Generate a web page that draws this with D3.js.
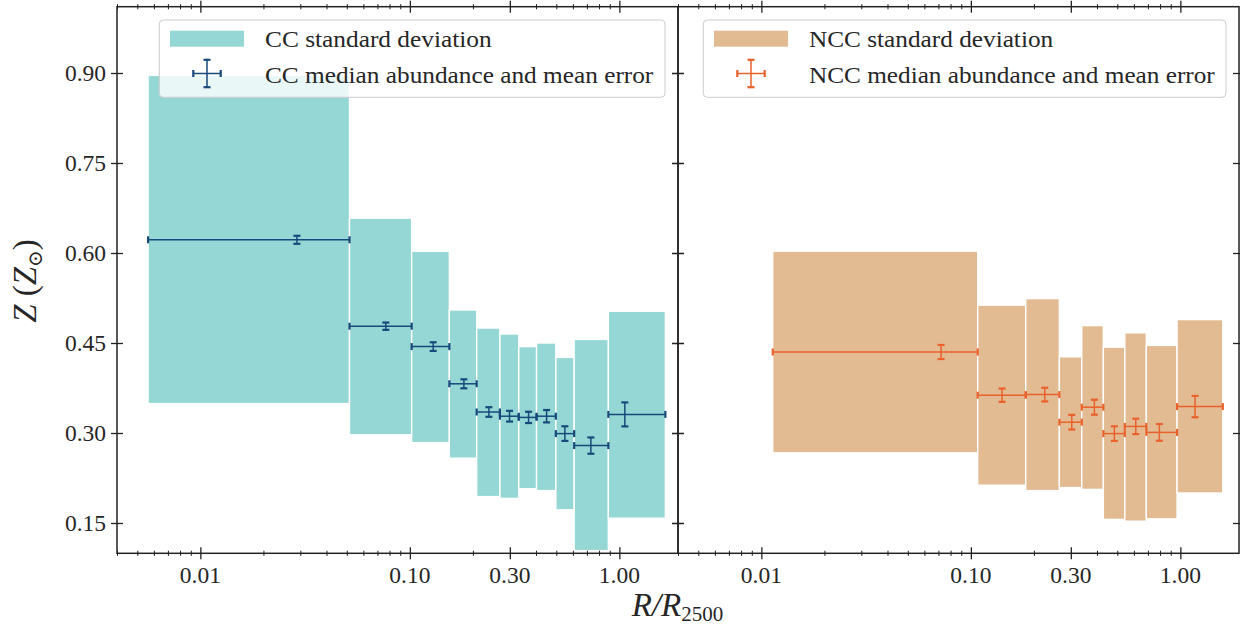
<!DOCTYPE html>
<html>
<head>
<meta charset="utf-8">
<script src="https://cdnjs.cloudflare.com/ajax/libs/d3/7.8.5/d3.min.js"></script>
<style>
body { margin: 0; background: #fff; }
svg text { font-family: "Liberation Serif", "DejaVu Serif", serif; fill: #262626; }
</style>
</head>
<body>
<svg id="chart" width="1240" height="628"></svg>
<script>
// CC clusters: radial bin edges (R/R2500), medians and std band
var ccEdges = [0.00563, 0.0515, 0.102, 0.1543, 0.2084, 0.269, 0.331, 0.4025, 0.4975, 0.6085, 0.886, 1.658];
var ccMedianR = [0.0289, 0.0768, 0.1292, 0.1811, 0.2383, 0.2991, 0.3686, 0.4494, 0.5494, 0.7311, 1.062];
var ccMedianZ = [0.622, 0.478, 0.444, 0.382, 0.335, 0.328, 0.326, 0.328, 0.299, 0.279, 0.331];
var ccErrZ = [0.0067, 0.0061, 0.0072, 0.0075, 0.0080, 0.0089, 0.0094, 0.0103, 0.0122, 0.0136, 0.0200];
var ccStdLow = [0.349, 0.297, 0.284, 0.258, 0.194, 0.191, 0.207, 0.204, 0.172, 0.104, 0.158];
var ccStdHigh = [0.896, 0.658, 0.603, 0.505, 0.475, 0.465, 0.444, 0.450, 0.426, 0.456, 0.503];

// NCC clusters
var nccEdges = [0.01133, 0.1078, 0.1828, 0.2645, 0.3383, 0.429, 0.543, 0.688, 0.9644, 1.594];
var nccMedianR = [0.0721, 0.1409, 0.2253, 0.3031, 0.3886, 0.4842, 0.6125, 0.7937, 1.175];
var nccMedianZ = [0.435, 0.363, 0.364, 0.318, 0.343, 0.299, 0.311, 0.301, 0.344];
var nccErrZ = [0.0117, 0.0111, 0.0114, 0.0122, 0.0125, 0.0122, 0.0128, 0.0139, 0.0178];
var nccStdLow = [0.267, 0.213, 0.204, 0.209, 0.206, 0.156, 0.153, 0.157, 0.200];
var nccStdHigh = [0.603, 0.513, 0.524, 0.427, 0.479, 0.443, 0.467, 0.446, 0.489];

// tick labels
var xTickValues = [0.01, 0.1, 0.3, 1.0];
var xTickLabels = ["0.01", "0.10", "0.30", "1.00"];
var yTickValues = [0.15, 0.30, 0.45, 0.60, 0.75, 0.90];
var yTickLabels = ["0.15", "0.30", "0.45", "0.60", "0.75", "0.90"];

var svg = d3.select('#chart');

var top0 = 6.7, bottom0 = 553.3, panelW = 561;
var xDomain = [0.004, 1.905];
var yDomain = [0.0995, 1.0105];

var y = d3.scaleLinear().domain(yDomain).range([bottom0, top0]);

// one panel per sample
function drawPanel(left, p) {
	var x = d3.scaleLog().domain(xDomain).range([left, left + panelW]);
	var g = svg.append('g');

	// std deviation boxes
	g.selectAll('rect.std')
		.data(p.low)
		.enter()
		.append('rect')
		.attr('class', 'std')
		.attr('x', function(d, i) { return x(p.edges[i]); })
		.attr('width', function(d, i) { return x(p.edges[i + 1]) - x(p.edges[i]); })
		.attr('y', function(d, i) { return y(p.high[i]); })
		.attr('height', function(d, i) { return y(d) - y(p.high[i]); })
		.attr('fill', p.fill)
		.attr('stroke', '#fff')
		.attr('stroke-width', 1.4);

	// error bars
	for (var i = 0; i < p.medR.length; i++) {
		var x0 = x(p.edges[i]), x1 = x(p.edges[i + 1]);
		var cx = x(p.medR[i]), cy = y(p.medZ[i]);
		var ya = y(p.medZ[i] + p.err[i]), yb = y(p.medZ[i] - p.err[i]);
		errorBar(g, x0, x1, cx, cy, ya, yb, p.line);
	}

	drawAxes(x, left, p.yLabels);
	drawLegend(left + p.legendX, p);
}

function errorBar(g, x0, x1, cx, cy, ya, yb, color) {
	var cap = 3.5;
	g.append('line').attr('x1', x0).attr('x2', x1).attr('y1', cy).attr('y2', cy)
		.attr('stroke', color).attr('stroke-width', 1.5);
	g.append('line').attr('x1', cx).attr('x2', cx).attr('y1', ya).attr('y2', yb)
		.attr('stroke', color).attr('stroke-width', 1.5);
	[x0, x1].forEach(function(xx) {
		g.append('line').attr('x1', xx).attr('x2', xx).attr('y1', cy - cap).attr('y2', cy + cap)
			.attr('stroke', color).attr('stroke-width', 2.2);
	});
	[ya, yb].forEach(function(yy) {
		g.append('line').attr('x1', cx - cap).attr('x2', cx + cap).attr('y1', yy).attr('y2', yy)
			.attr('stroke', color).attr('stroke-width', 2.2);
	});
}

// ticks that cross the spine (in and out)
function inout(sel, major, vertical) {
	sel.selectAll('.tick line').each(function(d) {
		var isMajor = major.some(function(m) { return Math.abs(m - d) < 1e-9; });
		var h = isMajor ? 6 : 2.6;
		var l = d3.select(this).attr('stroke', '#222').attr('stroke-width', isMajor ? 1.3 : 1);
		if (vertical) l.attr('y1', -h).attr('y2', h);
		else l.attr('x1', -h).attr('x2', h);
	});
	sel.select('.domain').remove();
}

function drawAxes(x, left, showY) {
	var minor = x.ticks().filter(function(t) {
		return !xTickValues.some(function(m) { return Math.abs(m - t) < 1e-9; });
	});
	var allX = xTickValues.concat(minor);

	var bottom = svg.append('g').attr('transform', 'translate(0,' + bottom0 + ')')
		.call(d3.axisBottom(x).tickValues(allX).tickSize(6).tickFormat(''));
	inout(bottom, xTickValues, true);
	var topAx = svg.append('g').attr('transform', 'translate(0,' + top0 + ')')
		.call(d3.axisTop(x).tickValues(allX).tickSize(6).tickFormat(''));
	inout(topAx, xTickValues, true);

	// x labels
	svg.append('g').selectAll('text')
		.data(xTickValues)
		.enter()
		.append('text')
		.attr('x', function(d) { return x(d); })
		.attr('y', 583)
		.attr('text-anchor', 'middle')
		.style('font-size', '23.5px')
		.text(function(d, i) { return xTickLabels[i]; });

	var leftAx = svg.append('g').attr('transform', 'translate(' + left + ',0)')
		.call(d3.axisLeft(y).tickValues(yTickValues).tickSize(6).tickFormat(''));
	inout(leftAx, yTickValues, false);
	var rightAx = svg.append('g').attr('transform', 'translate(' + (left + panelW) + ',0)')
		.call(d3.axisRight(y).tickValues(yTickValues).tickSize(6).tickFormat(''));
	inout(rightAx, yTickValues, false);

	if (showY) {
		svg.append('g').selectAll('text')
			.data(yTickValues)
			.enter()
			.append('text')
			.attr('x', left - 11)
			.attr('y', function(d) { return y(d); })
			.attr('dy', '0.34em')
			.attr('text-anchor', 'end')
			.style('font-size', '23.5px')
			.text(function(d, i) { return yTickLabels[i]; });
	}

	// frame
	svg.append('rect')
		.attr('x', left).attr('y', top0)
		.attr('width', panelW).attr('height', bottom0 - top0)
		.attr('fill', 'none').attr('stroke', '#222').attr('stroke-width', 1.5);
}

function drawLegend(lx, p) {
	var lg = svg.append('g').attr('transform', 'translate(' + lx + ',20)');
	lg.append('rect')
		.attr('width', p.legendW).attr('height', 77.3)
		.attr('rx', 4).attr('ry', 4)
		.attr('fill', '#fff').attr('fill-opacity', 0.8)
		.attr('stroke', '#cccccc').attr('stroke-width', 1);
	lg.append('rect')
		.attr('x', 10.7).attr('y', 10.7)
		.attr('width', 74).attr('height', 16)
		.attr('fill', p.fill);
	errorBar(lg, 34, 61.4, 47.7, 53.5, 39.8, 67.2, p.line);
	lg.append('text')
		.attr('x', 105.7).attr('y', 27.3)
		.attr('textLength', p.labelW[0]).attr('lengthAdjust', 'spacingAndGlyphs')
		.style('font-size', '23.5px')
		.text(p.name + ' standard deviation');
	lg.append('text')
		.attr('x', 105.7).attr('y', 63.3)
		.attr('textLength', p.labelW[1]).attr('lengthAdjust', 'spacingAndGlyphs')
		.style('font-size', '23.5px')
		.text(p.name + ' median abundance and mean error');
}

drawPanel(117, {
	name: 'CC', edges: ccEdges, medR: ccMedianR, medZ: ccMedianZ, err: ccErrZ,
	low: ccStdLow, high: ccStdHigh, fill: '#94d7d5', line: '#17497b',
	yLabels: true, legendX: 42.3, legendW: 505.7, labelW: [226.7, 388.3]
});
drawPanel(117 + panelW, {
	name: 'NCC', edges: nccEdges, medR: nccMedianR, medZ: nccMedianZ, err: nccErrZ,
	low: nccStdLow, high: nccStdHigh, fill: '#e2bb92', line: '#e9612b',
	yLabels: false, legendX: 25.3, legendW: 522.7, labelW: [244.2, 405.8]
});

// axis titles
var yl = svg.append('text')
	.attr('transform', 'translate(36,281) rotate(-90)')
	.attr('text-anchor', 'middle')
	.style('font-size', '33px');
yl.append('tspan').style('font-style', 'italic').text('Z');
yl.append('tspan').text(' (');
yl.append('tspan').style('font-style', 'italic').text('Z');
yl.append('tspan').attr('dy', 6).style('font-size', '20px').text('\u2299');
yl.append('tspan').attr('dy', -6).text(')');

var xl = svg.append('text')
	.attr('x', 677.5).attr('y', 616)
	.attr('text-anchor', 'middle')
	.style('font-size', '33px');
xl.append('tspan').style('font-style', 'italic').text('R/R');
xl.append('tspan').attr('dy', 5).style('font-size', '21px').text('2500');
</script>
</body>
</html>
